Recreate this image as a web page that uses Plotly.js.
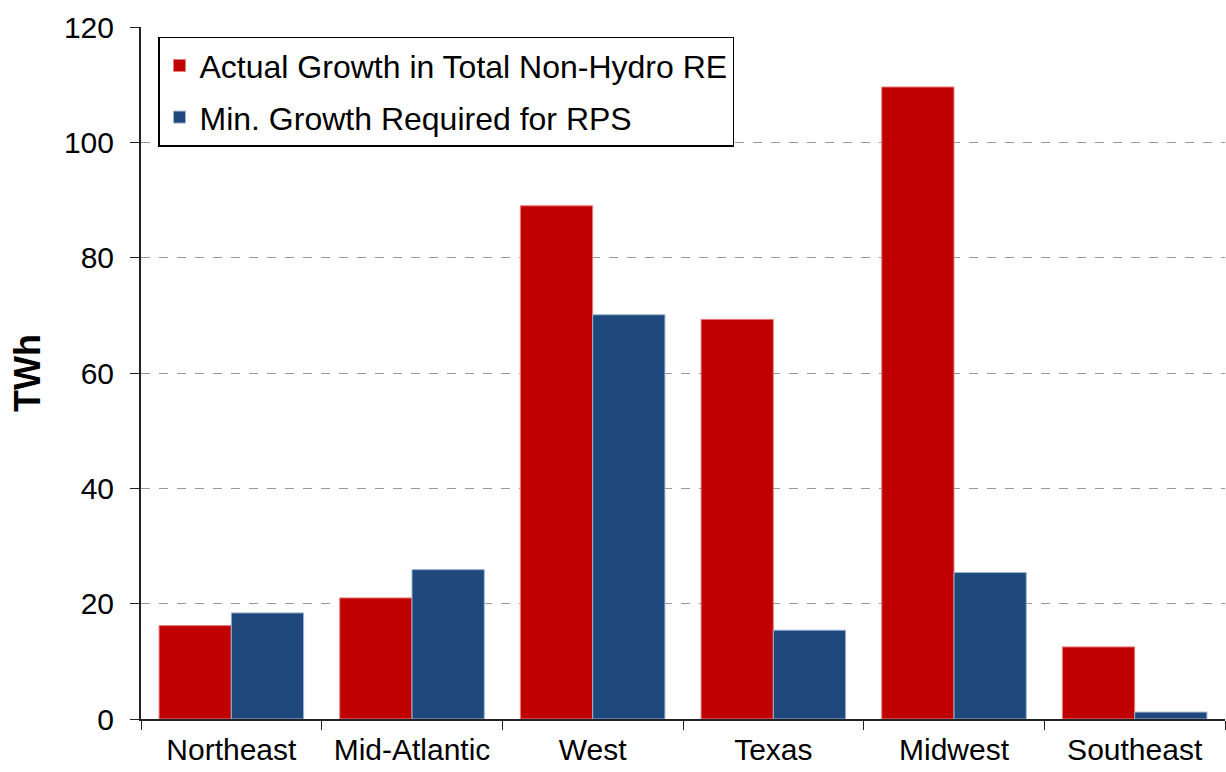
<!DOCTYPE html>
<html>
<head>
<meta charset="utf-8">
<script src="https://cdn.plot.ly/plotly-3.0.1.min.js"></script>
<style>html,body{margin:0;padding:0;background:#fff;}</style>
</head>
<body>
<div id="chart" style="width:1226px;height:772px;"></div>
<script>
const regions = ["Northeast", "Mid-Atlantic", "West", "Texas", "Midwest", "Southeast"];
const actualGrowth = [16.2, 21.0, 89.0, 69.3, 109.6, 12.5];
const minRequired = [18.4, 25.9, 70.1, 15.4, 25.4, 1.2];
const seriesNames = ["Actual Growth in Total Non-Hydro RE", "Min. Growth Required for RPS"];

const font = "Liberation Sans, Arial, sans-serif";
const traces = [
  {type: "bar", name: seriesNames[0], x: regions, y: actualGrowth, legendgroup: "a",
   marker: {color: "#C00000", line: {color: "#E88080", width: 1}}},
  {type: "bar", name: seriesNames[1], x: regions, y: minRequired, legendgroup: "b",
   marker: {color: "#1F497D", line: {color: "#9DB3D2", width: 1}}}
];
const layout = {
  width: 1226, height: 772,
  margin: {l: 141, r: 1, t: 27, b: 53},
  paper_bgcolor: "#fff", plot_bgcolor: "#fff",
  barmode: "group", bargap: 0.2, bargroupgap: 0,
  font: {family: font, color: "#000", size: 30},
  xaxis: {
    type: "category", tickson: "boundaries", ticks: "outside", ticklen: 9, tickcolor: "#222",
    showline: true, linecolor: "#222", linewidth: 2, showgrid: false,
    tickfont: {size: 30, family: font}, automargin: false, ticklabelstandoff: 3
  },
  yaxis: {
    range: [0, 120], dtick: 20, ticks: "outside", ticklen: 9, tickcolor: "#222",
    showline: true, linecolor: "#222", linewidth: 2,
    showgrid: true, gridcolor: "#999", griddash: "dash", gridwidth: 1, zeroline: false,
    tickfont: {size: 30, family: font}, automargin: false, ticklabelstandoff: 10,
    title: {text: "<b>TWh</b>", font: {size: 36, family: font}, standoff: 12}
  },
  legend: {
    x: 0.0157, y: 0.986, xanchor: "left", yanchor: "top",
    bordercolor: "#000", borderwidth: 1.5, bgcolor: "#fff",
    font: {size: 32, family: font}, tracegroupgap: 7, itemwidth: 30
  },
  showlegend: true
};
Plotly.newPlot("chart", traces, layout, {displayModeBar: false, staticPlot: true});
</script>
</body>
</html>
